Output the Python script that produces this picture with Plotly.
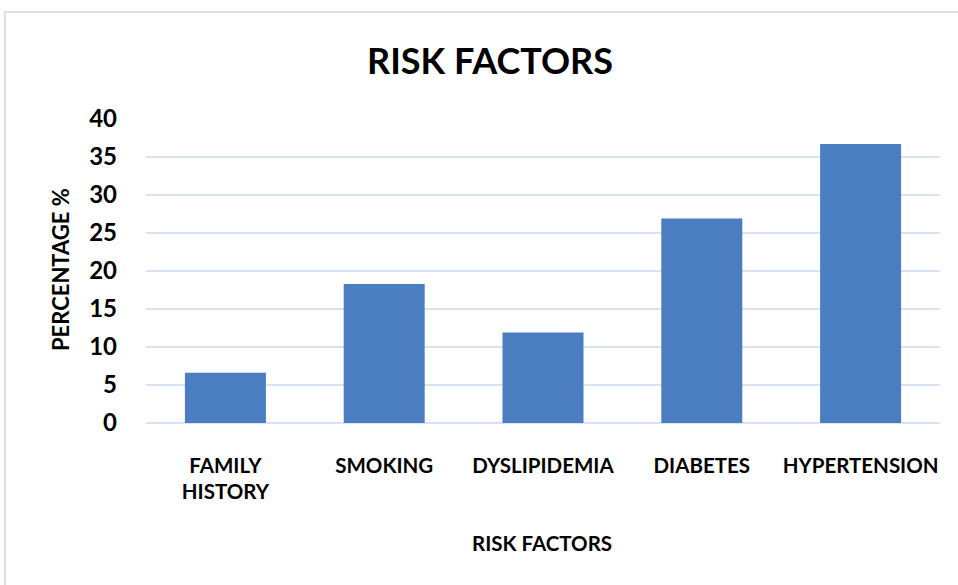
import plotly.graph_objects as go

categories = ["FAMILY<br>HISTORY", "SMOKING", "DYSLIPIDEMIA", "DIABETES", "HYPERTENSION"]
percentages = [6.6, 18.3, 11.9, 26.9, 36.7]
y_ticks = [0, 5, 10, 15, 20, 25, 30, 35, 40]

FONT = "Lato, 'Open Sans', sans-serif"

W, H = 958, 585
L, R, T, B = 146, 18, 119, 162
pw, ph = W - L - R, H - T - B

def px_x(px):
    return (px - L) / pw

def px_y(py):
    return (H - B - py) / ph

fig = go.Figure(
    go.Bar(
        x=categories,
        y=percentages,
        marker=dict(color="#4a7ec0", line=dict(width=0)),
        width=0.51,
    )
)

fig.update_layout(
    width=W,
    height=H,
    margin=dict(l=L, r=R, t=T, b=B, autoexpand=False),
    paper_bgcolor="white",
    plot_bgcolor="white",
    showlegend=False,
    font=dict(family=FONT, color="black"),
    title=dict(
        text="<b>RISK FACTORS</b>",
        x=490 / W,
        xanchor="center",
        y=1 - 61 / H,
        yanchor="middle",
        yref="container",
        xref="container",
        font=dict(size=36, family=FONT, color="black"),
    ),
    xaxis=dict(
        showgrid=False,
        showline=False,
        zeroline=False,
        ticks="",
        automargin=False,
        tickfont=dict(size=20.5, family=FONT, color="black", weight="bold"),
        ticklabelstandoff=28,
    ),
    yaxis=dict(
        range=[0, 40],
        tickvals=y_ticks,
        automargin=False,
        showgrid=True,
        gridcolor="#d9e3f1",
        gridwidth=1.5,
        zeroline=True,
        zerolinecolor="#d9e3f1",
        zerolinewidth=1.5,
        showline=False,
        ticks="",
        tickfont=dict(size=24, family=FONT, color="black", weight="bold"),
        ticklabelstandoff=28,
    ),
    annotations=[
        dict(
            text="<b>RISK FACTORS</b>",
            xref="paper", yref="paper",
            x=px_x(542), y=px_y(543),
            xanchor="center", yanchor="middle",
            showarrow=False,
            font=dict(size=20.5, family=FONT, color="black"),
        ),
        dict(
            text="<b>PERCENTAGE %</b>",
            xref="paper", yref="paper",
            x=px_x(60), y=px_y(270),
            xanchor="center", yanchor="middle",
            textangle=-90,
            showarrow=False,
            font=dict(size=22, family=FONT, color="black"),
        ),
    ],
    shapes=[
        dict(
            type="rect",
            xref="paper", yref="paper",
            x0=px_x(5), x1=px_x(1000),
            y0=px_y(700), y1=px_y(12),
            line=dict(color="#d6e0ee", width=2),
            fillcolor="rgba(0,0,0,0)",
            layer="below",
        )
    ],
)

fig.write_html("out.html")
